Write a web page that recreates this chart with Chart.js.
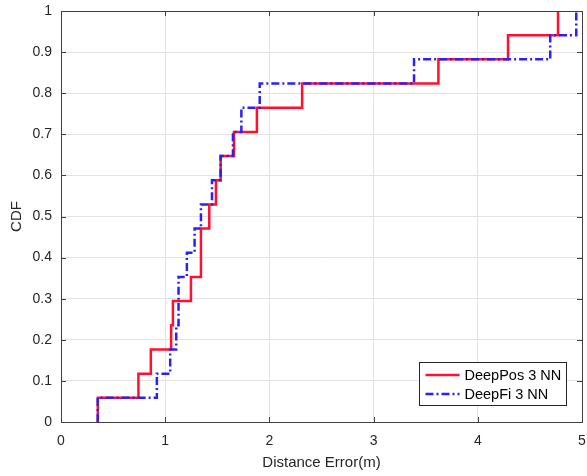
<!DOCTYPE html>
<html>
<head>
<meta charset="utf-8">
<script src="https://cdn.jsdelivr.net/npm/chart.js@4.4.1/dist/chart.umd.min.js"></script>
<style>
    html, body { margin: 0; padding: 0; background: #fff; }
    #wrap { width: 587px; height: 476px; }
</style>
</head>
<body>
<div id="wrap"><canvas id="cdfChart" width="587" height="476"></canvas></div>
<script>
// CDF levels (17 samples) and the step positions
const cdfLevels = [0, 0.0588, 0.1176, 0.1765, 0.2353, 0.2941, 0.3529, 0.4118, 0.4706, 0.5294, 0.5882, 0.6471, 0.7059, 0.7647, 0.8235, 0.8824, 0.9412, 1.0];
const deepPosErr = [0.353, 0.353, 0.743, 0.862, 1.057, 1.074, 1.247, 1.343, 1.343, 1.423, 1.487, 1.532, 1.66, 1.88, 2.314, 3.622, 4.29, 4.77];
const deepFiErr = [0.353, 0.353, 0.92, 1.048, 1.106, 1.128, 1.128, 1.208, 1.282, 1.343, 1.449, 1.532, 1.65, 1.731, 1.907, 3.388, 4.695, 4.945];
const seriesNames = ['DeepPos 3 NN', 'DeepFi 3 NN'];
const xTicks = [0, 1, 2, 3, 4, 5];
const yTicks = [0, 0.1, 0.2, 0.3, 0.4, 0.5, 0.6, 0.7, 0.8, 0.9, 1];

const RED = '#ff1030';
const BLUE = '#2b22f2';
const AXIS = '#404040';
const FONT = '"Liberation Sans", Arial, sans-serif';

const toPoints = (xs) => xs.map((x, i) => ({ x: x, y: cdfLevels[i] }));

// box, inward ticks and the legend, MATLAB style
const matlabFrame = {
    id: 'matlabFrame',
    afterDatasetsDraw(chart) {
        const { ctx, chartArea: a, scales } = chart;
        ctx.save();
        ctx.strokeStyle = AXIS;
        ctx.lineWidth = 1;
        ctx.beginPath();
        xTicks.forEach(v => {
            const px = Math.round(scales.x.getPixelForValue(v)) + 0.5;
            ctx.moveTo(px, a.bottom); ctx.lineTo(px, a.bottom - 5);
            ctx.moveTo(px, a.top); ctx.lineTo(px, a.top + 5);
        });
        yTicks.forEach(v => {
            const py = Math.round(scales.y.getPixelForValue(v)) + 0.5;
            ctx.moveTo(a.left, py); ctx.lineTo(a.left + 5, py);
            ctx.moveTo(a.right, py); ctx.lineTo(a.right - 5, py);
        });
        ctx.stroke();
        ctx.strokeRect(Math.round(a.left) + 0.5, Math.round(a.top) + 0.5, Math.round(a.right - a.left), Math.round(a.bottom - a.top));

        // legend
        const bx = 419.5, by = 362.5, bw = 147, bh = 43;
        ctx.fillStyle = '#fff';
        ctx.fillRect(bx, by, bw, bh);
        ctx.strokeStyle = '#262626';
        ctx.strokeRect(bx, by, bw, bh);
        ctx.font = '14.5px ' + FONT;
        ctx.textBaseline = 'middle';
        chart.data.datasets.forEach((ds, i) => {
            const cy = by + 12.5 + i * 19;
            ctx.strokeStyle = ds.borderColor;
            ctx.lineWidth = 2.5;
            ctx.setLineDash(ds.borderDash || []);
            ctx.beginPath();
            ctx.moveTo(bx + 6, cy); ctx.lineTo(bx + 40, cy);
            ctx.stroke();
            ctx.setLineDash([]);
            ctx.fillStyle = '#000';
            ctx.fillText(ds.label, bx + 45, cy + 1);
        });
        ctx.restore();
    }
};

const ctx = document.getElementById('cdfChart').getContext('2d');
new Chart(ctx, {
    type: 'line',
    data: {
        datasets: [
            { label: seriesNames[0], data: toPoints(deepPosErr), borderColor: RED, borderWidth: 2.5, stepped: 'before', pointRadius: 0, fill: false, order: 1 },
            { label: seriesNames[1], data: toPoints(deepFiErr), borderColor: BLUE, borderWidth: 2.5, borderDash: [8, 3, 2, 3], stepped: 'before', pointRadius: 0, fill: false, order: 0 }
        ]
    },
    options: {
        responsive: false,
        animation: false,
        events: [],
        layout: { padding: { top: 11, right: 5, left: 0, bottom: 0 } },
        plugins: { legend: { display: false }, tooltip: { enabled: false } },
        scales: {
            x: {
                type: 'linear', min: 0, max: 5,
                afterBuildTicks: s => { s.ticks = xTicks.map(v => ({ value: v })); },
                afterFit: s => { s.height = 54; s.paddingLeft = 0; s.paddingRight = 0; },
                grid: { color: '#e3e3e3', drawTicks: false },
                border: { display: false },
                ticks: { color: '#262626', font: { family: FONT, size: 14 }, padding: 11 },
                title: { display: true, text: 'Distance Error(m)', color: '#262626', font: { family: FONT, size: 15 }, padding: { top: 2, bottom: 4 } }
            },
            y: {
                type: 'linear', min: 0, max: 1,
                afterBuildTicks: s => { s.ticks = yTicks.map(v => ({ value: v })); },
                afterFit: s => { s.width = 61; s.paddingTop = 0; s.paddingBottom = 0; },
                grid: { color: '#e3e3e3', drawTicks: false },
                border: { display: false },
                ticks: { color: '#262626', font: { family: FONT, size: 14 }, padding: 9, callback: v => String(+v.toFixed(1)) },
                title: { display: true, text: 'CDF', color: '#262626', font: { family: FONT, size: 15 }, padding: { top: 8, bottom: 0 } }
            }
        }
    },
    plugins: [matlabFrame]
});
</script>
</body>
</html>
